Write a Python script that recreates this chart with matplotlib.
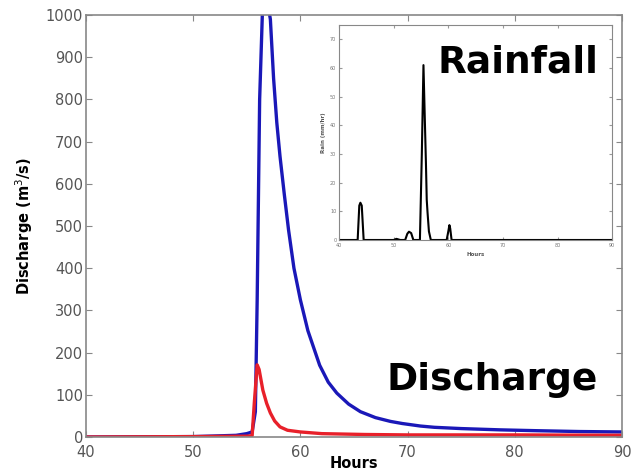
import matplotlib.pyplot as plt

# discharge hydrographs (hours, m3/s)
blue_hours = [40, 50, 54, 55, 55.5, 55.8, 55.97, 56.2, 56.45, 56.7, 57.0, 57.2, 57.5, 57.8,
              58.1, 58.5, 58.9, 59.4, 60.0, 60.7, 61.8, 62.6, 63.4, 64.5, 65.6, 67.0,
              68.4, 69.5, 71.2, 72.5, 75.0, 78.6, 82.0, 86.0, 90]
blue_q = [0, 1, 4, 8, 12, 60, 325, 800, 1000, 1030, 1020, 990, 850, 745,
          665, 575, 490, 400, 325, 252, 170, 130, 104, 78, 60, 46,
          37, 32, 26, 23, 20, 17, 15, 13, 12]

red_hours = [40, 50, 55, 55.5, 55.7, 55.97, 56.15, 56.5, 56.85, 57.2, 57.6, 58.1, 58.8,
             60.0, 62.0, 66.0, 70.0, 80.0, 90]
red_q = [0, 1, 2, 3, 80, 171, 160, 111, 80, 57, 38, 24, 16,
         12, 8, 6, 5, 5, 4]

# rainfall hyetograph (hours, mm/hr)
rain_hours = [40, 43.4, 43.7, 43.9, 44.15, 44.5, 50.0, 50.5, 51.2, 52.1, 52.5, 52.8, 53.2, 53.6,
              54.8, 55.15, 55.45, 55.7, 55.9, 56.05, 56.2, 56.45, 56.8,
              59.7, 60.0, 60.2, 60.35, 60.6, 90]
rain_mm = [0, 0, 12, 13, 12, 0, 0, 0.4, 0, 0, 2.2, 2.9, 2.4, 0,
           0, 30, 61, 42, 27, 14, 9.5, 3, 0,
           0, 3, 5.2, 4, 0, 0]

xticks = [40, 50, 60, 70, 80, 90]
yticks = list(range(0, 1001, 100))

fig = plt.figure(figsize=(6.35, 4.76), dpi=100)
ax = fig.add_axes([0.1354, 0.0819, 0.8441, 0.8866])
ax.plot(blue_hours, blue_q, color='#1a18b8', lw=2.4, solid_joinstyle='round')
ax.plot(red_hours, red_q, color='#e8202a', lw=2.4, solid_joinstyle='round')
ax.set_xlim(40, 90)
ax.set_ylim(0, 1000)
ax.set_xticks(xticks)
ax.set_yticks(yticks)
ax.tick_params(direction='in', length=4, top=True, right=True, colors='#888888',
               labelcolor='#555555', labelsize=10.5, pad=2)
ax.tick_params(axis='x', pad=6)
for s in ax.spines.values():
    s.set_color('#888888')
    s.set_linewidth(1.2)
ax.set_xlabel('Hours', fontweight='bold', fontsize=10.5, labelpad=-3)
ax.set_ylabel('Discharge (m$^3$/s)', fontweight='bold', fontsize=10.5, labelpad=8)

# rainfall inset
ins = fig.add_axes([0.534, 0.4958, 0.430, 0.4517])
ins.plot(rain_hours, rain_mm, color='black', lw=1.5)
ins.set_xlim(40, 90)
ins.set_ylim(0, 75)
ins.set_xticks(xticks)
ins.set_yticks(range(0, 71, 10))
ins.tick_params(direction='in', length=2, top=True, right=True, colors='#999999',
                labelcolor='#777777', labelsize=3.5, pad=2)
for s in ins.spines.values():
    s.set_color('#888888')
    s.set_linewidth(0.8)
ins.set_xlabel('Hours', fontsize=4, fontweight='bold', color='#555555', labelpad=3)
ins.set_ylabel('Rain (mm/hr)', fontsize=4, fontweight='bold', color='#555555', labelpad=3)

fig.text(0.9417, 0.8487, 'Rainfall', ha='right', va='baseline',
         fontsize=27, fontweight='bold', family='DejaVu Sans')
fig.text(0.9417, 0.1807, 'Discharge', ha='right', va='baseline',
         fontsize=27, fontweight='bold', family='DejaVu Sans')

fig.savefig('out.png', dpi=100)
